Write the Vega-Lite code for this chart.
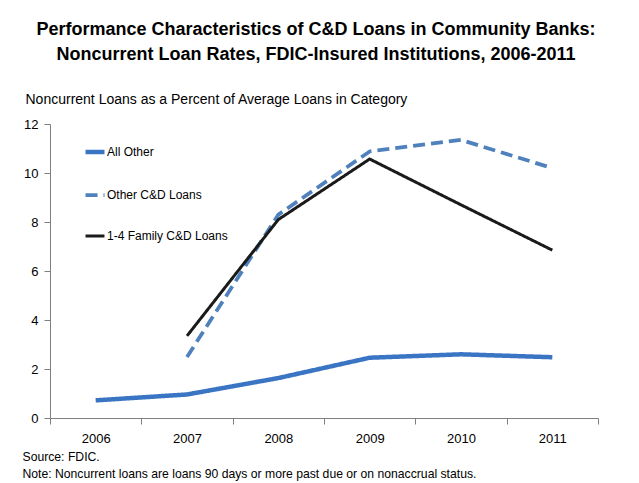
{
  "$schema": "https://vega.github.io/schema/vega-lite/v6.json",
  "width": 548,
  "height": 294,
  "autosize": {"type": "none"},
  "padding": {"left": 50, "top": 124, "right": 41, "bottom": 65},
  "background": "white",
  "config": {
    "font": "Liberation Sans",
    "view": {"stroke": null}
  },
  "title": {
    "text": ["Performance Characteristics of C&D Loans in Community Banks:", "Noncurrent Loan Rates, FDIC-Insured Institutions, 2006-2011"],
    "font": "Liberation Sans",
    "fontSize": 18,
    "fontWeight": "bold",
    "color": "#000000",
    "anchor": "middle",
    "dx": -8,
    "lineHeight": 25,
    "offset": 28
  },
  "data": {
    "values": [
      {"year": 2006, "series": "All Other", "value": 0.72},
      {"year": 2007, "series": "All Other", "value": 0.96},
      {"year": 2008, "series": "All Other", "value": 1.63},
      {"year": 2009, "series": "All Other", "value": 2.46},
      {"year": 2010, "series": "All Other", "value": 2.6},
      {"year": 2011, "series": "All Other", "value": 2.48},
      {"year": 2007, "series": "Other C&D Loans", "value": 2.49},
      {"year": 2008, "series": "Other C&D Loans", "value": 8.3},
      {"year": 2009, "series": "Other C&D Loans", "value": 10.88},
      {"year": 2010, "series": "Other C&D Loans", "value": 11.35},
      {"year": 2011, "series": "Other C&D Loans", "value": 10.2},
      {"year": 2007, "series": "1-4 Family C&D Loans", "value": 3.35},
      {"year": 2008, "series": "1-4 Family C&D Loans", "value": 8.1},
      {"year": 2009, "series": "1-4 Family C&D Loans", "value": 10.57},
      {"year": 2010, "series": "1-4 Family C&D Loans", "value": 8.7},
      {"year": 2011, "series": "1-4 Family C&D Loans", "value": 6.85}
    ]
  },
  "mark": {"type": "line", "strokeCap": "butt", "strokeJoin": "miter"},
  "encoding": {
    "x": {
      "field": "year",
      "type": "quantitative",
      "scale": {"domain": [2005.5, 2011.5], "nice": false, "zero": false},
      "axis": {
        "values": [2005.5, 2006.5, 2007.5, 2008.5, 2009.5, 2010.5, 2011.5],
        "labelExpr": "datum.value > 2011 ? '' : format(datum.value + 0.5, 'd')",
        "labelOffset": 45.67,
        "labelOverlap": false,
        "labelBound": false,
        "labelFlush": false,
        "labelFontSize": 13,
        "labelColor": "#000000",
        "labelPadding": 8,
        "tickSize": 6,
        "tickColor": "#7f7f7f",
        "domainColor": "#7f7f7f",
        "grid": false,
        "title": ["Source: FDIC.", "Note: Noncurrent loans are loans 90 days or more past due or on nonaccrual status."],
        "titleFontSize": 12.2,
        "titleFontWeight": "normal",
        "titleColor": "#000000",
        "titleAlign": "left",
        "titleAnchor": "start",
        "titleBaseline": "alphabetic",
        "titleLineHeight": 17,
        "titleX": -28,
        "titleY": 42
      }
    },
    "y": {
      "field": "value",
      "type": "quantitative",
      "scale": {"domain": [0, 12], "nice": false},
      "axis": {
        "values": [0, 2, 4, 6, 8, 10, 12],
        "labelFontSize": 13,
        "labelColor": "#000000",
        "labelPadding": 6,
        "tickSize": 6,
        "tickColor": "#7f7f7f",
        "domainColor": "#7f7f7f",
        "grid": false,
        "title": "Noncurrent Loans as a Percent of Average Loans in Category",
        "titleAngle": 0,
        "titleAlign": "left",
        "titleBaseline": "alphabetic",
        "titleFontSize": 14,
        "titleFontWeight": "normal",
        "titleColor": "#000000",
        "titleX": -25,
        "titleY": -21
      }
    },
    "color": {
      "field": "series",
      "type": "nominal",
      "scale": {
        "domain": ["All Other", "Other C&D Loans", "1-4 Family C&D Loans"],
        "range": ["#3a75c4", "#4f81bd", "#1a1a1a"]
      },
      "legend": {
        "title": null,
        "orient": "none",
        "legendX": 33,
        "legendY": 16,
        "symbolType": "stroke",
        "symbolSize": 360,
        "labelFontSize": 12,
        "labelColor": "#000000",
        "labelOffset": 0,
        "rowPadding": 22.5,
        "symbolStrokeWidth": 3
      }
    },
    "strokeDash": {
      "field": "series",
      "type": "nominal",
      "scale": {
        "domain": ["All Other", "Other C&D Loans", "1-4 Family C&D Loans"],
        "range": [[1, 0], [12, 6], [1, 0]]
      },
      "legend": null
    },
    "strokeWidth": {
      "field": "series",
      "type": "nominal",
      "scale": {
        "domain": ["All Other", "Other C&D Loans", "1-4 Family C&D Loans"],
        "range": [4.5, 3, 2.5]
      },
      "legend": null
    }
  }
}
